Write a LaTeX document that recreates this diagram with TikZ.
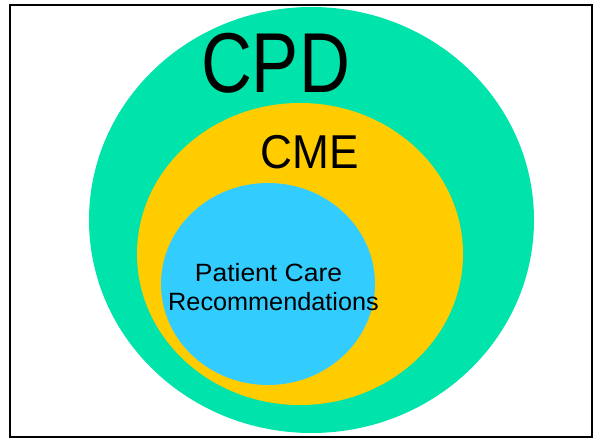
\documentclass[tikz,border=0pt]{standalone}
\usepackage{fontspec}
\usepackage{graphicx}
\setmainfont{Liberation Sans}
\usetikzlibrary{shapes.geometric}

\definecolor{cpdgreen}{RGB}{0,227,170}
\definecolor{cmeyellow}{RGB}{255,204,0}
\definecolor{pcrblue}{RGB}{51,204,255}

\begin{document}
\begin{tikzpicture}
  [
    x = 1pt, y = -1pt,
    blob/.style = {ellipse, draw = none, inner sep = 0pt},
    label/.style = {inner sep = 0pt, anchor = base, text = black},
  ]

  \useasboundingbox (0,0) rectangle (594,438);
  \node (frame) [draw, line width = 2pt, minimum width = 582pt,
    minimum height = 432pt, inner sep = 0pt] at (301,221) {};

  \node (cpd) [blob, fill = cpdgreen, minimum width = 445pt,
    minimum height = 426pt] at (311.5,220) {};
  \node (cme) [blob, fill = cmeyellow, minimum width = 326pt,
    minimum height = 302pt] at (300,254) {};
  \node (pcr) [blob, fill = pcrblue, minimum width = 214pt,
    minimum height = 202pt] at (268,284) {};

  \node (cpdtext) [label, font = \fontsize{85}{85}\selectfont] at (275.5,93)
    {\scalebox{0.83}[1]{CPD}};
  \node (cmetext) [label, font = \fontsize{47.5}{47.5}\selectfont] at (310,169)
    {\scalebox{0.93}[1]{CME}};
  \node (pcrtext1) [label, font = \fontsize{25}{25}\selectfont] at (268.5,281)
    {\scalebox{1.06}[1]{Patient Care}};
  \node (pcrtext2) [label, font = \fontsize{25}{25}\selectfont] at (273.5,310)
    {\scalebox{1.01}[1]{Recommendations}};

\end{tikzpicture}
\end{document}
